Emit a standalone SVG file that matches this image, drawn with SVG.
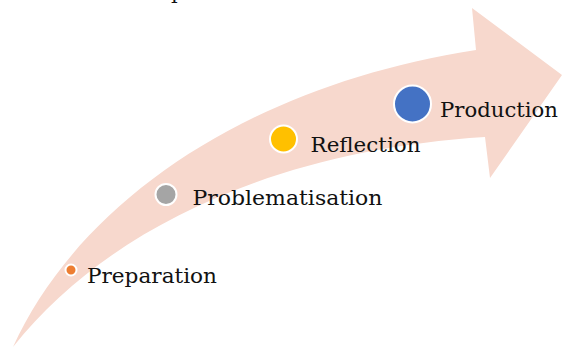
<svg xmlns="http://www.w3.org/2000/svg" width="562" height="347" viewBox="0 0 562 347">
<style>
.lbl{font-family:"DejaVu Serif","Liberation Serif",serif;font-size:21px;fill:#111111}
.dot{stroke:#ffffff;stroke-width:2}
</style>
<rect width="562" height="347" fill="#ffffff"/>
<g id="arrow">
<path d="M13,347 C80,200 250,85 476,50 L472,8 L562,75 L490,178 L485,137 C280,150 110,225 13,347 Z" fill="#F7D8CD"/>
</g>
<text class="lbl" x="171" y="-1">p</text>
<g id="preparation">
<circle class="dot" cx="71" cy="270" r="5.5" fill="#ED7D31"/>
<text class="lbl" x="87" y="283" textLength="130" lengthAdjust="spacingAndGlyphs">Preparation</text>
</g>
<g id="problematisation">
<circle class="dot" cx="166" cy="194.5" r="10.5" fill="#A5A5A5"/>
<text class="lbl" x="192.5" y="205" textLength="190" lengthAdjust="spacingAndGlyphs">Problematisation</text>
</g>
<g id="reflection">
<circle class="dot" cx="283.5" cy="139" r="13.5" fill="#FFC000"/>
<text class="lbl" x="310.5" y="151.5" textLength="110" lengthAdjust="spacingAndGlyphs">Reflection</text>
</g>
<g id="production">
<circle class="dot" cx="412.5" cy="104" r="18.5" fill="#4472C4"/>
<text class="lbl" x="440" y="116.5" textLength="118" lengthAdjust="spacingAndGlyphs">Production</text>
</g>
<g id="connectors"></g>
</svg>
